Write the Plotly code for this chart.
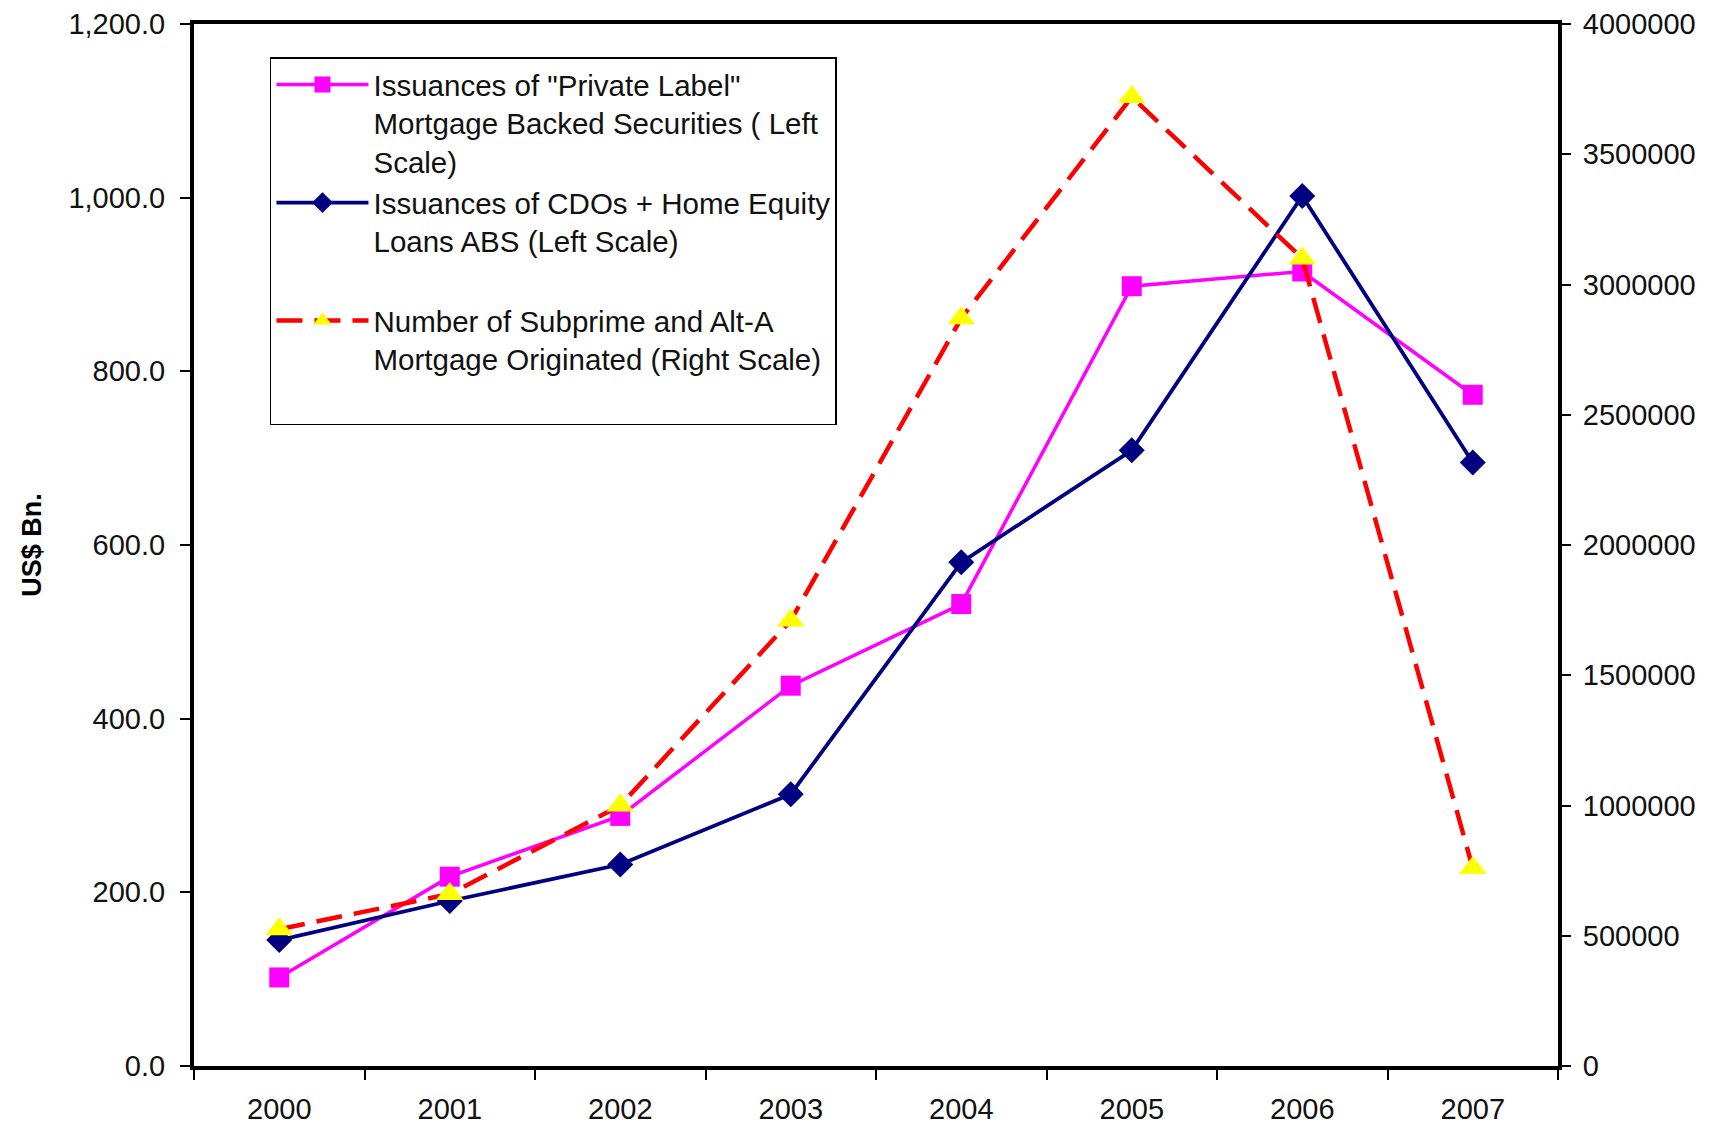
import plotly.graph_objects as go

years = ["2000", "2001", "2002", "2003", "2004", "2005", "2006", "2007"]
mbs_issuance = [102, 218, 288, 438, 532, 898, 915, 773]
cdo_heloan = [145, 190, 232, 313, 580, 709, 1002, 695]
subprime_altA = [525000, 660000, 1000000, 1710000, 2870000, 3720000, 3100000, 760000]

left_ticks = [0, 200, 400, 600, 800, 1000, 1200]
right_ticks = [0, 500000, 1000000, 1500000, 2000000, 2500000, 3000000, 3500000, 4000000]

name_mbs = 'Issuances of "Private Label"<br>Mortgage Backed Securities ( Left<br>Scale)'
name_cdo = 'Issuances of CDOs + Home Equity<br>Loans ABS (Left Scale)<br> '
name_sub = 'Number of Subprime and Alt-A<br>Mortgage Originated (Right Scale)<br> '

FONT = "Liberation Sans, Arial, sans-serif"

fig = go.Figure()
fig.add_trace(go.Scatter(
    x=years, y=mbs_issuance, name=name_mbs, mode="lines+markers",
    line=dict(color="#FF00FF", width=3.5),
    marker=dict(symbol="square", size=20, color="#FF00FF"),
))
fig.add_trace(go.Scatter(
    x=years, y=cdo_heloan, name=name_cdo, mode="lines+markers",
    line=dict(color="#000080", width=3.8),
    marker=dict(symbol="diamond", size=20, color="#000080"),
))
fig.add_trace(go.Scatter(
    x=years, y=subprime_altA, name=name_sub, mode="lines+markers", yaxis="y2",
    line=dict(color="#FF0000", width=4.5, dash="26px,12px"),
    marker=dict(symbol="triangle-up", size=24, color="#FFFF00"),
))

tick_font = dict(family=FONT, size=29, color="#111111")

fig.update_layout(
    template="none",
    width=1717, height=1126,
    margin=dict(l=194, r=159, t=24, b=60, autoexpand=False),
    paper_bgcolor="white", plot_bgcolor="white",
    showlegend=True,
    legend=dict(
        x=0.0557, y=0.968, xanchor="left", yanchor="top",
        bgcolor="white", bordercolor="black", borderwidth=1.5,
        font=dict(family=FONT, size=29.5, color="#111111"),
        valign="top", itemwidth=92,
    ),
    xaxis=dict(
        type="category", categoryorder="array", categoryarray=years,
        range=[-0.5, 7.5], tickson="boundaries", automargin=False,
        ticks="outside", ticklen=10, tickwidth=1.5, tickcolor="black",
        showline=True, linewidth=4, linecolor="black", mirror=True,
        showgrid=False, zeroline=False, tickfont=tick_font,
        ticklabelstandoff=14,
    ),
    xaxis2=dict(
        overlaying="x", anchor="y", range=[-0.5, 7.5], automargin=False,
        tickmode="array", tickvals=[-0.5, 0.5, 1.5, 2.5, 3.5, 4.5, 5.5, 6.5, 7.5],
        ticks="inside", ticklen=10, tickwidth=1.5, tickcolor="black",
        showticklabels=False, showgrid=False, zeroline=False, showline=False,
    ),
    yaxis=dict(
        range=[0, 1200], tickmode="array", tickvals=left_ticks, tickformat=",.1f",
        automargin=False,
        ticks="outside", ticklen=10, tickwidth=1.5, tickcolor="black",
        showline=True, linewidth=4, linecolor="black",
        showgrid=False, zeroline=False, tickfont=tick_font, ticklabelstandoff=9,
        title=dict(text="<b>US$ Bn.</b>", font=dict(family=FONT, size=27, color="black"), standoff=20),
    ),
    yaxis2=dict(
        overlaying="y", side="right", anchor="x", automargin=False,
        range=[0, 4000000], tickmode="array", tickvals=right_ticks, tickformat="d",
        ticks="outside", ticklen=9, tickwidth=1.5, tickcolor="black",
        showline=True, linewidth=4, linecolor="black",
        showgrid=False, zeroline=False, tickfont=tick_font, ticklabelstandoff=6,
    ),
    yaxis3=dict(
        overlaying="y", side="left", anchor="x", automargin=False,
        range=[0, 1200], tickmode="array", tickvals=left_ticks,
        ticks="inside", ticklen=7, tickwidth=1.5, tickcolor="black",
        showticklabels=False, showgrid=False, zeroline=False, showline=False,
    ),
    yaxis4=dict(
        overlaying="y", side="right", anchor="x", automargin=False,
        range=[0, 4000000], tickmode="array", tickvals=right_ticks,
        ticks="inside", ticklen=8, tickwidth=1.5, tickcolor="black",
        showticklabels=False, showgrid=False, zeroline=False, showline=False,
    ),
)

fig.write_html("out.html", config={"displayModeBar": False},
               post_script="document.body.style.margin='0px';")
